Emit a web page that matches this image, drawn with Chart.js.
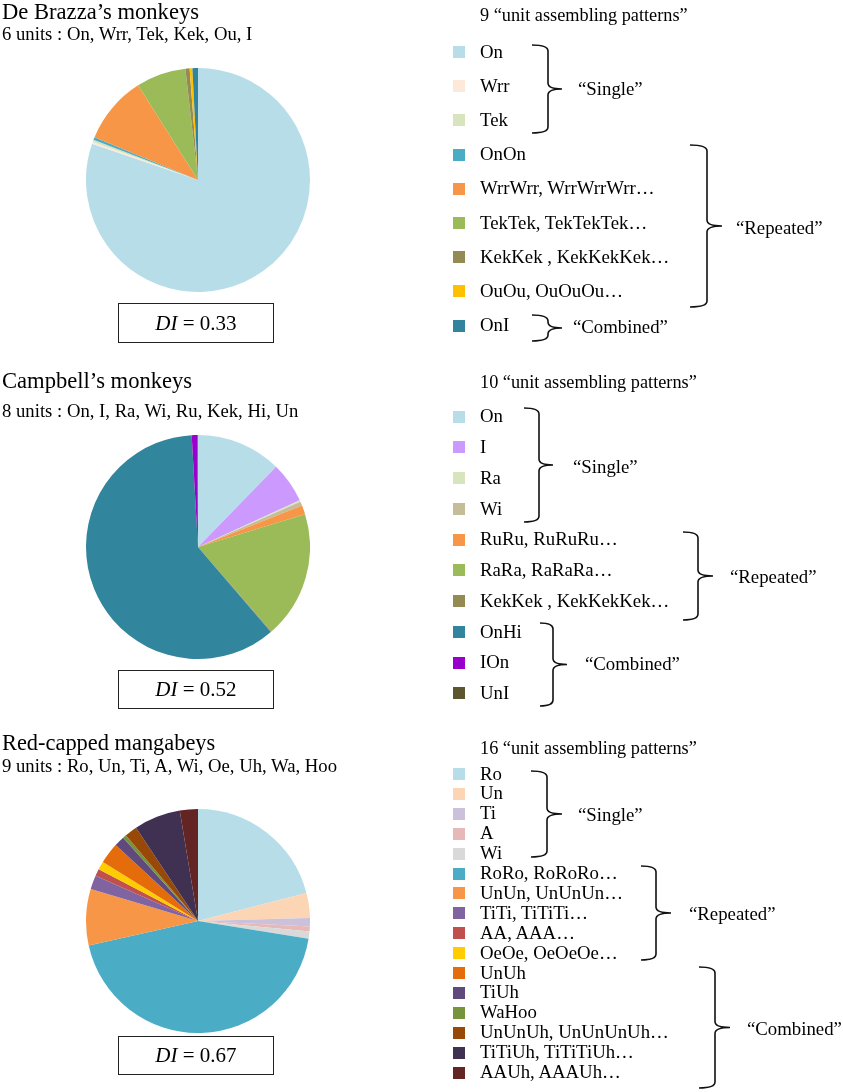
<!DOCTYPE html>
<html>
<head>
<meta charset="utf-8">
<script src="https://cdn.jsdelivr.net/npm/chart.js@4"></script>
<style>
  body { margin: 0; background: #fff; }
  #page { position: relative; width: 843px; height: 1092px; overflow: hidden;
          font-family: "Liberation Serif", "Times New Roman", serif; color: #000; }
  .t { position: absolute; white-space: nowrap; line-height: 0.85; }
  .sq { position: absolute; width: 12px; height: 12px; }
  .box { position: absolute; border: 1.5px solid #222; box-sizing: border-box;
         font-size: 21px; display: flex; align-items: center; justify-content: center; }
  canvas { position: absolute; }
  svg { position: absolute; left: 0; top: 0; }
</style>
</head>
<body>
<div id="page">
  <canvas id="pie1" width="224" height="224" style="left:85.5px;top:67.5px"></canvas>
  <canvas id="pie2" width="224" height="224" style="left:85.5px;top:434.5px"></canvas>
  <canvas id="pie3" width="224" height="224" style="left:85.5px;top:808.5px"></canvas>
  <svg id="braces" width="843" height="1092"></svg>
</div>
<script>
// De Brazza's monkeys
var brazzaLabels = ['On', 'Wrr', 'Tek', 'OnOn', 'WrrWrr, WrrWrrWrr…', 'TekTek, TekTekTek…',
                    'KekKek , KekKekKek…', 'OuOu, OuOuOu…', 'OnI'];
var brazzaValues = [80.4, 0.3, 0.3, 0.4, 9.8, 7.2, 0.6, 0.4, 0.8];
var brazzaColors = ['#B7DEE8', '#FDE9D9', '#D7E4BD', '#4BACC6', '#F79646', '#9BBB59',
                    '#948A54', '#FFC000', '#31849B'];

// Campbell's monkeys
var campbellLabels = ['On', 'I', 'Ra', 'Wi', 'RuRu, RuRuRu…', 'RaRa, RaRaRa…',
                      'KekKek , KekKekKek…', 'OnHi', 'IOn', 'UnI'];
var campbellValues = [12.3, 5.9, 0.2, 0.6, 1.3, 18.4, 0.1, 60.5, 0.8, 0.1];
var campbellColors = ['#B7DEE8', '#CC99FF', '#D7E4BD', '#C4BD97', '#F79646', '#9BBB59',
                      '#948A54', '#31859C', '#9900CC', '#5C5530'];

// Red-capped mangabeys
var mangabeyLabels = ['Ro', 'Un', 'Ti', 'A', 'Wi', 'RoRo, RoRoRo…', 'UnUn, UnUnUn…',
                      'TiTi, TiTiTi…', 'AA, AAA…', 'OeOe, OeOeOe…', 'UnUh', 'TiUh', 'WaHoo',
                      'UnUnUh, UnUnUnUh…', 'TiTiUh, TiTiTiUh…', 'AAUh, AAAUh…'];
var mangabeyValues = [20.9, 3.6, 1.2, 0.7, 1.05, 43.8, 8.1, 2.0, 1.0, 1.2, 3.0, 1.5, 0.5,
                      1.8, 6.7, 2.6];
var mangabeyColors = ['#B7DEE8', '#FCD5B5', '#CCC1DA', '#E6B9B8', '#D9D9D9', '#4BACC6',
                      '#F79646', '#8064A2', '#C0504D', '#FFCC00', '#E46C0A', '#604A7B',
                      '#77933C', '#984807', '#403152', '#632523'];

var titles = ['De Brazza’s monkeys', 'Campbell’s monkeys', 'Red-capped mangabeys'];
var subtitles = ['6 units : On, Wrr, Tek, Kek, Ou, I',
                 '8 units : On, I, Ra, Wi, Ru, Kek, Hi, Un',
                 '9 units : Ro, Un, Ti, A, Wi, Oe, Uh, Wa, Hoo'];
var headers = ['9 “unit assembling patterns”', '10 “unit assembling patterns”',
               '16 “unit assembling patterns”'];
var diValues = ['0.33', '0.52', '0.67'];

var page = document.getElementById('page');

// baseline sits 0.7625 em below the top of a 0.85 line box
function text(str, x, baseline, size) {
  var d = document.createElement('div');
  d.className = 't';
  d.style.fontSize = size + 'px';
  d.style.left = x + 'px';
  d.style.top = (baseline - 0.7625 * size) + 'px';
  d.textContent = str;
  page.appendChild(d);
}

function pie(id, labels, values, colors) {
  new Chart(document.getElementById(id), {
    type: 'pie',
    data: {
      labels: labels,
      datasets: [{ data: values, backgroundColor: colors, borderWidth: 0 }]
    },
    options: {
      responsive: false,
      animation: false,
      plugins: { legend: { display: false }, tooltip: { enabled: false } }
    }
  });
}

function legend(labels, colors, firstCenter, step) {
  labels.forEach(function (lab, i) {
    var cy = firstCenter + i * step;
    var s = document.createElement('div');
    s.className = 'sq';
    s.style.left = '453px';
    s.style.top = (cy - 6) + 'px';
    s.style.background = colors[i];
    page.appendChild(s);
    text(lab, 480, cy + 5.9, 18.8);
  });
}

function diBox(val, top, bottom) {
  var b = document.createElement('div');
  b.className = 'box';
  b.style.left = '118px';
  b.style.width = '156px';
  b.style.top = top + 'px';
  b.style.height = (bottom - top) + 'px';
  b.innerHTML = '<i>DI</i>&nbsp;= ' + val;
  page.appendChild(b);
}

var svg = document.getElementById('braces');
function brace(x1, x2, x3, y1, y2, label, lx, lb) {
  var ym = (y1 + y2) / 2, r = 6;
  var d = 'M' + x1 + ',' + y1 + ' Q' + x2 + ',' + y1 + ' ' + x2 + ',' + (y1 + r) +
          ' L' + x2 + ',' + (ym - r) + ' Q' + x2 + ',' + ym + ' ' + x3 + ',' + ym +
          ' Q' + x2 + ',' + ym + ' ' + x2 + ',' + (ym + r) +
          ' L' + x2 + ',' + (y2 - r) + ' Q' + x2 + ',' + y2 + ' ' + x1 + ',' + y2;
  var p = document.createElementNS('http://www.w3.org/2000/svg', 'path');
  p.setAttribute('d', d);
  p.setAttribute('fill', 'none');
  p.setAttribute('stroke', '#111');
  p.setAttribute('stroke-width', '1.6');
  svg.appendChild(p);
  text(label, lx, lb, 18.8);
}

// left column text
text(titles[0], 2, 19, 22.6);
text(subtitles[0], 2, 40, 18.7);
text(titles[1], 2, 388, 22.6);
text(subtitles[1], 2, 417, 18.7);
text(titles[2], 2, 750, 22.4);
text(subtitles[2], 2, 772.5, 18.7);

// pies
pie('pie1', brazzaLabels, brazzaValues, brazzaColors);
pie('pie2', campbellLabels, campbellValues, campbellColors);
pie('pie3', mangabeyLabels, mangabeyValues, mangabeyColors);

diBox(diValues[0], 303, 343);
diBox(diValues[1], 670, 709);
diBox(diValues[2], 1036, 1075);

// legends
text(headers[0], 480, 21.5, 18.3);
legend(brazzaLabels, brazzaColors, 52, 34.2);
text(headers[1], 480, 388.5, 18.3);
legend(campbellLabels, campbellColors, 416.7, 30.75);
text(headers[2], 480, 755, 18.3);
legend(mangabeyLabels, mangabeyColors, 774, 19.9);

// group braces
brace(532, 548, 562, 45, 133, '“Single”', 578, 95);
brace(690, 707, 722, 145, 307, '“Repeated”', 736, 234);
brace(532, 548, 562, 315, 341, '“Combined”', 573, 333.3);

brace(524, 539, 553, 408, 522, '“Single”', 573, 473);
brace(683, 698, 713, 532, 620, '“Repeated”', 730, 583);
brace(540, 553, 567, 623, 706, '“Combined”', 585, 670);

brace(531, 547, 562, 771, 857, '“Single”', 578, 821);
brace(641, 656, 671, 866, 960, '“Repeated”', 689, 920);
brace(699, 715, 730, 967, 1088, '“Combined”', 747, 1035);
</script>
</body>
</html>
